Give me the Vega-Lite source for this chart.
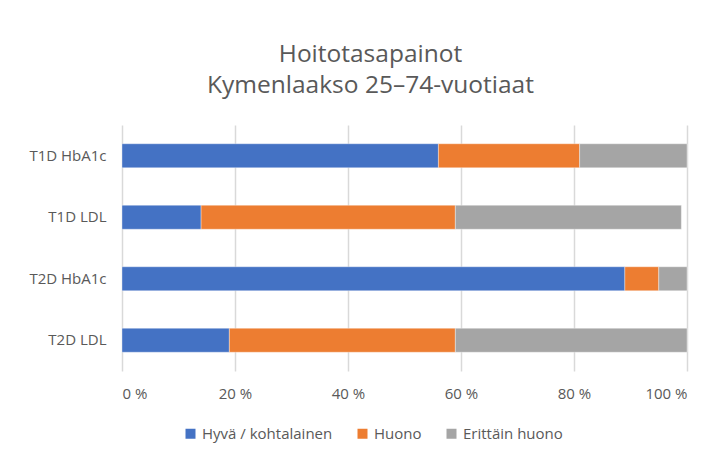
{
  "$schema": "https://vega.github.io/schema/vega-lite/v6.json",
  "autosize": "none",
  "width": 565,
  "height": 246,
  "padding": {"left": 122, "top": 125, "right": 38, "bottom": 86},
  "background": "white",
  "title": {
    "text": ["Hoitotasapainot", "Kymenlaakso 25–74-vuotiaat"],
    "anchor": "middle",
    "dx": -34,
    "offset": 27,
    "font": "Open Sans",
    "fontSize": 24.5,
    "fontWeight": "normal",
    "color": "#595959",
    "lineHeight": 31
  },
  "config": {
    "view": {"stroke": null},
    "font": "Open Sans"
  },
  "data": {
    "values": [
      {"kategoria": "T1D HbA1c", "luokka": "Hyvä / kohtalainen", "j": 1, "osuus": 56},
      {"kategoria": "T1D HbA1c", "luokka": "Huono", "j": 2, "osuus": 25},
      {"kategoria": "T1D HbA1c", "luokka": "Erittäin huono", "j": 3, "osuus": 19},
      {"kategoria": "T1D LDL", "luokka": "Hyvä / kohtalainen", "j": 1, "osuus": 14},
      {"kategoria": "T1D LDL", "luokka": "Huono", "j": 2, "osuus": 45},
      {"kategoria": "T1D LDL", "luokka": "Erittäin huono", "j": 3, "osuus": 40},
      {"kategoria": "T2D HbA1c", "luokka": "Hyvä / kohtalainen", "j": 1, "osuus": 89},
      {"kategoria": "T2D HbA1c", "luokka": "Huono", "j": 2, "osuus": 6},
      {"kategoria": "T2D HbA1c", "luokka": "Erittäin huono", "j": 3, "osuus": 5},
      {"kategoria": "T2D LDL", "luokka": "Hyvä / kohtalainen", "j": 1, "osuus": 19},
      {"kategoria": "T2D LDL", "luokka": "Huono", "j": 2, "osuus": 40},
      {"kategoria": "T2D LDL", "luokka": "Erittäin huono", "j": 3, "osuus": 41}
    ]
  },
  "mark": {"type": "bar", "stroke": "white", "strokeWidth": 0.6, "strokeOpacity": 0.6},
  "encoding": {
    "y": {
      "field": "kategoria",
      "type": "nominal",
      "sort": ["T1D HbA1c", "T1D LDL", "T2D HbA1c", "T2D LDL"],
      "scale": {"paddingInner": 0.61, "paddingOuter": 0.305},
      "axis": {
        "title": null,
        "domain": false,
        "ticks": false,
        "labelPadding": 16,
        "labelFontSize": 15,
        "labelColor": "#595959",
        "labelFont": "Open Sans"
      }
    },
    "x": {
      "field": "osuus",
      "type": "quantitative",
      "stack": "zero",
      "scale": {"domain": [0, 100], "nice": false},
      "axis": {
        "title": null,
        "values": [0, 20, 40, 60, 80, 100],
        "labelExpr": "datum.value + ' %'",
        "domain": false,
        "ticks": false,
        "grid": true,
        "gridColor": "#d9d9d9",
        "gridWidth": 1.5,
        "labelPadding": 15,
        "labelFontSize": 15,
        "labelColor": "#595959",
        "labelFont": "Open Sans"
      }
    },
    "color": {
      "field": "luokka",
      "type": "nominal",
      "scale": {
        "domain": ["Hyvä / kohtalainen", "Huono", "Erittäin huono"],
        "range": ["#4472C4", "#ED7D31", "#A5A5A5"]
      },
      "legend": {
        "title": null,
        "orient": "none",
        "direction": "horizontal",
        "legendX": 61,
        "legendY": 301,
        "symbolType": "square",
        "symbolSize": 100,
        "symbolStrokeWidth": 0,
        "labelFontSize": 15,
        "labelColor": "#595959",
        "labelFont": "Open Sans",
        "columnPadding": 22,
        "labelOffset": 4
      }
    },
    "order": {"field": "j", "type": "quantitative"}
  }
}
